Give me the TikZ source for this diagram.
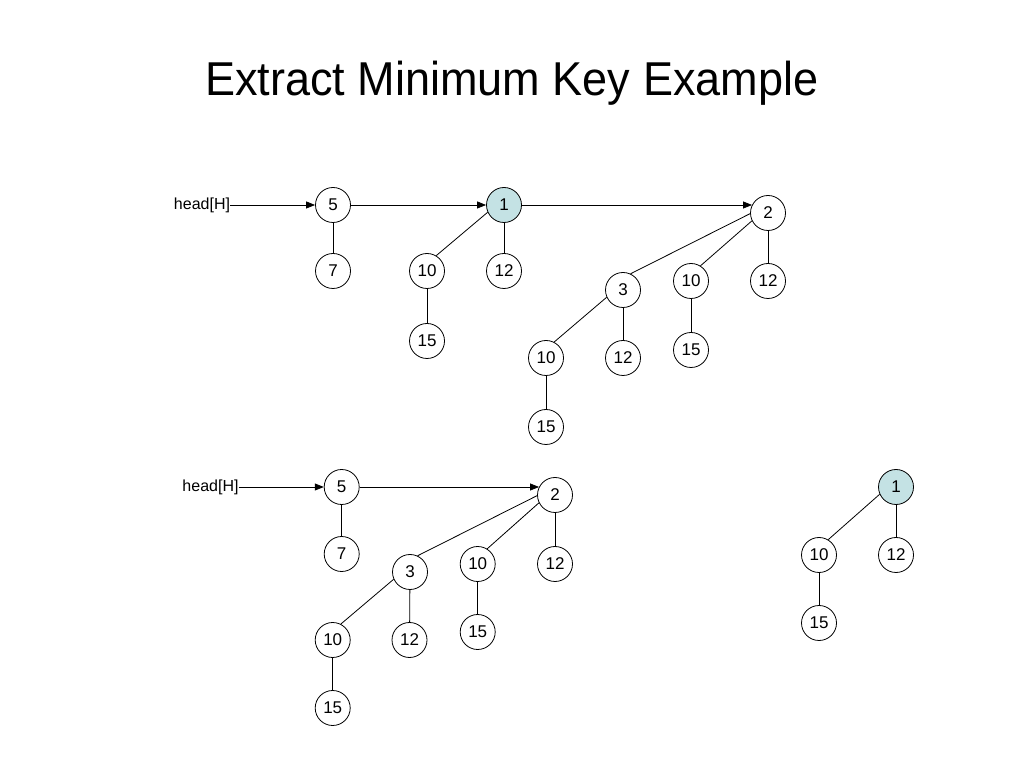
\documentclass[tikz,border=0pt]{standalone}
\usepackage{fontspec}
\setmainfont{Liberation Sans}
\usetikzlibrary{arrows.meta}
\definecolor{minfill}{RGB}{196,226,228}
\begin{document}
\begin{tikzpicture}[x=1pt,y=1pt,
  key/.style={circle,draw,line width=0.8pt,minimum size=35pt,inner sep=0pt,font=\fontsize{17}{19}\selectfont},
  minkey/.style={key,fill=minfill},
  lbl/.style={inner sep=0pt,font=\fontsize{16}{18}\selectfont},
  edge/.style={line width=0.8pt},
  arr/.style={line width=0.8pt,-{Triangle[length=9pt,width=7pt]}}]
\useasboundingbox (0,0) rectangle (1024,768);
\node[inner sep=0pt,anchor=base west] (title) at (205,672)
  {\scalebox{0.948}[1]{\fontsize{47.5}{50}\selectfont Extract Minimum Key Example}};
% ---- top heap ----
\node[lbl] (h1) at (202,563) {head[H]};
\node[key] (a5) at (333,563) {5};
\node[key] (a7) at (333,497) {7};
\node[minkey] (a1) at (504,563) {1};
\node[key] (a10) at (427,497) {10};
\node[key] (a15) at (427,427) {15};
\node[key] (a12) at (504,497) {12};
\node[key] (a2) at (768,555) {2};
\node[key] (a3) at (623,478) {3};
\node[key] (a10b) at (691,487) {10};
\node[key] (a12b) at (768,487) {12};
\node[key] (a10c) at (546,410) {10};
\node[key] (a12c) at (623,410) {12};
\node[key] (a15b) at (691,418) {15};
\node[key] (a15c) at (546,341) {15};
\draw[arr] (h1.east) -- (h1.east -| a5.west);
\draw[arr] (a5.east) -- (a1.west);
\draw[arr] (a1.east) -- (a1.east -| a2.153);
\draw[edge] (a5) -- (a7);
\draw[edge] (a1.204) -- (a10.59);
\draw[edge] (a1) -- (a12);
\draw[edge] (a10) -- (a15);
\draw[edge] (a2.182) -- (a3.65);
\draw[edge] (a2.206) -- (a10b.58);
\draw[edge] (a2) -- (a12b);
\draw[edge] (a3.204) -- (a10c.63);
\draw[edge] (a3) -- (a12c);
\draw[edge] (a10b) -- (a15b);
\draw[edge] (a10c) -- (a15c);
% ---- bottom heap ----
\node[lbl] (h2) at (210.5,281) {head[H]};
\node[key] (b5) at (341.7,281) {5};
\node[key] (b7) at (341.7,214) {7};
\node[key] (b2) at (555,273) {2};
\node[key] (b3) at (410,196) {3};
\node[key] (b10) at (477.7,204) {10};
\node[key] (b12) at (555,204) {12};
\node[key] (b10c) at (332.7,128) {10};
\node[key] (b12c) at (409.5,128) {12};
\node[key] (b15b) at (477.7,136) {15};
\node[key] (b15c) at (332.7,60) {15};
\draw[arr] (h2.east) -- (h2.east -| b5.west);
\draw[arr] (b5.east) -- (b5.east -| b2.153);
\draw[edge] (b5) -- (b7);
\draw[edge] (b2.182) -- (b3.65);
\draw[edge] (b2.206) -- (b10.58);
\draw[edge] (b2) -- (b12);
\draw[edge] (b3.204) -- (b10c.63);
\draw[edge] (b3) -- (b12c);
\draw[edge] (b10) -- (b15b);
\draw[edge] (b10c) -- (b15c);
% ---- extracted tree ----
\node[minkey] (c1) at (896,281) {1};
\node[key] (c10) at (819,213) {10};
\node[key] (c12) at (896,213) {12};
\node[key] (c15) at (819,145) {15};
\draw[edge] (c1.204) -- (c10.59);
\draw[edge] (c1) -- (c12);
\draw[edge] (c10) -- (c15);
\end{tikzpicture}
\end{document}
